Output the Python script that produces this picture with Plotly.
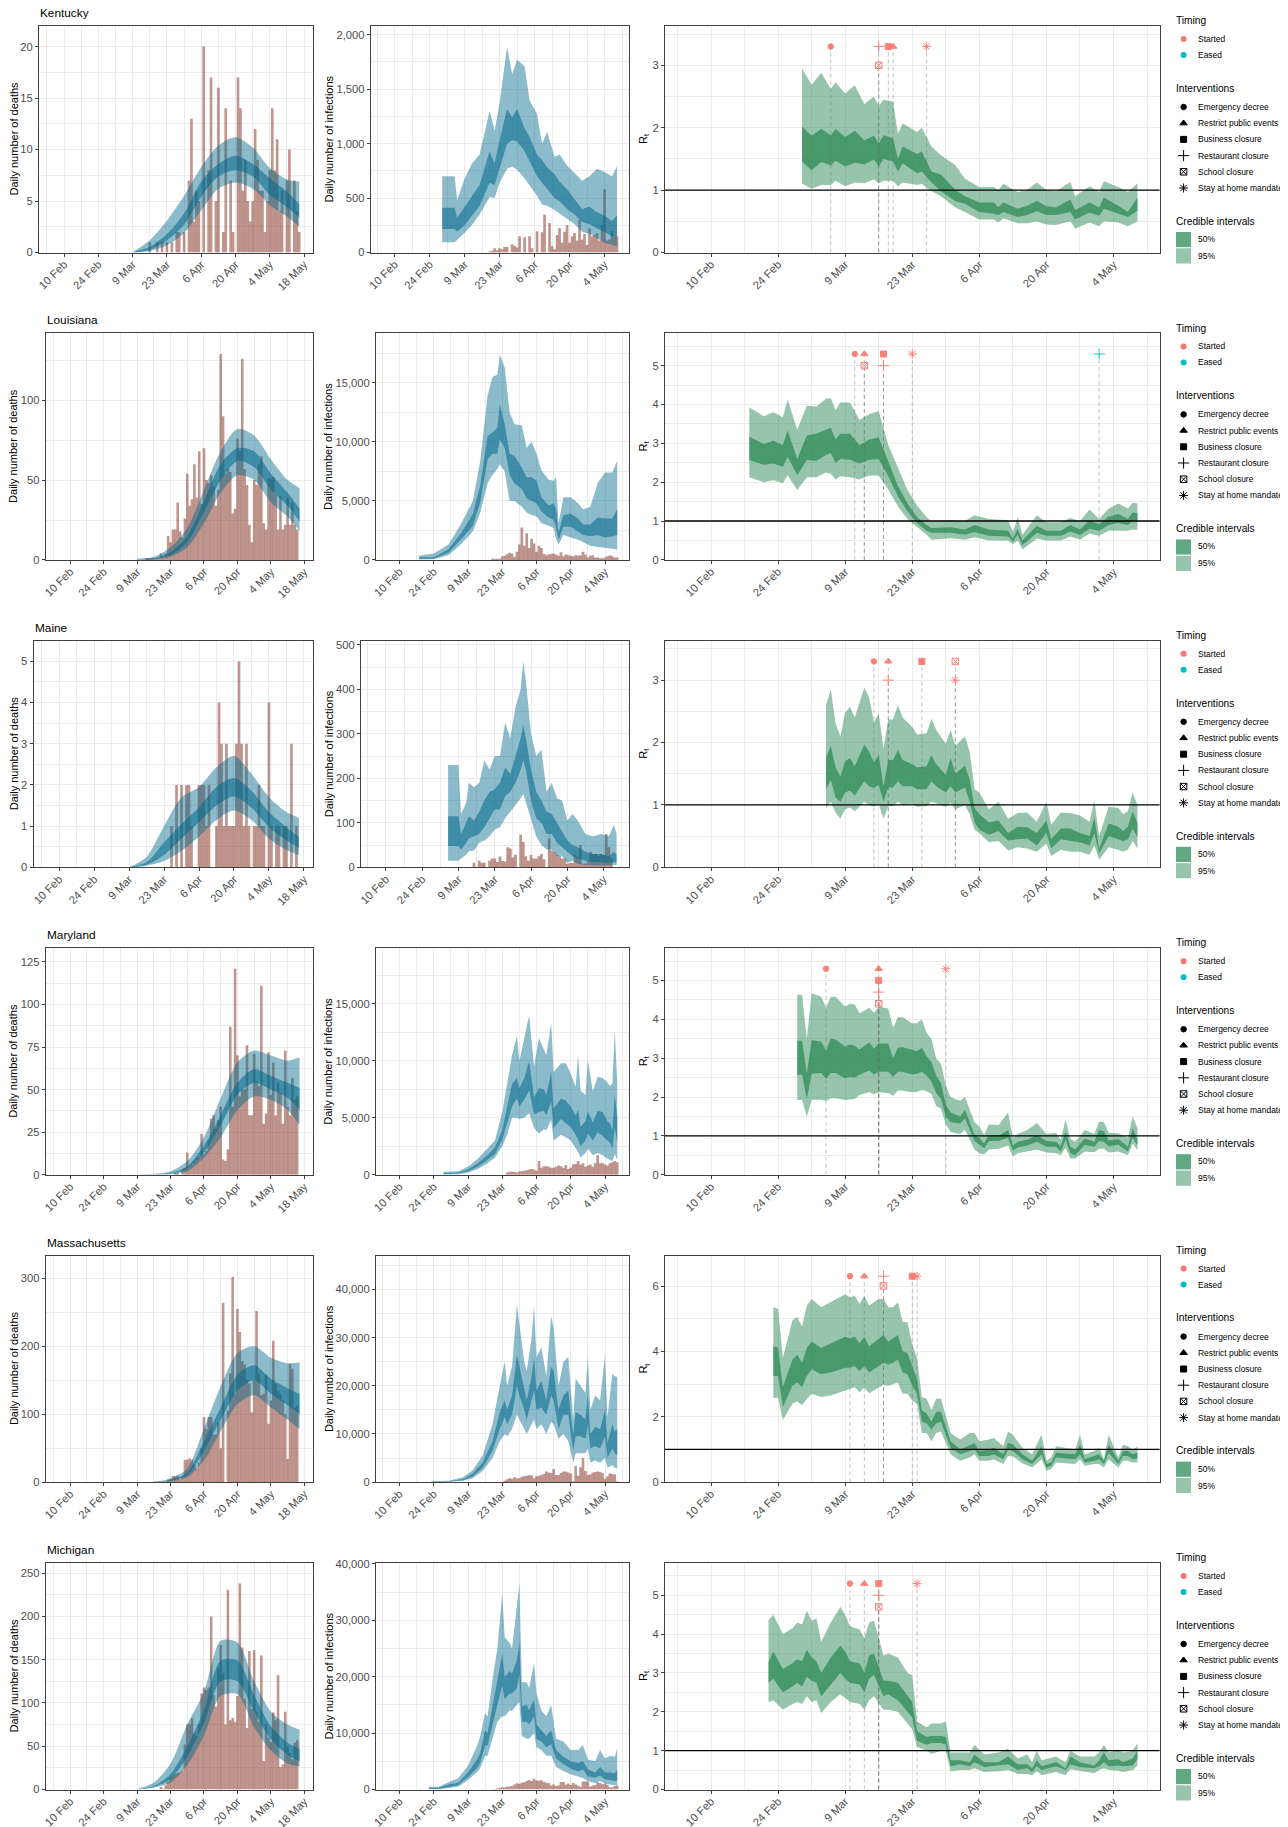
import pandas as pd
import plotly.graph_objects as go

# the page keeps its 8px body margin at the left and top
PAGE_MARGIN = 8
WIDTH = 1288 - PAGE_MARGIN
HEIGHT = 1827 - PAGE_MARGIN
DAY0 = pd.Timestamp("2020-02-10")

STATES = ["Kentucky", "Louisiana", "Maine", "Maryland", "Massachusetts", "Michigan"]

TICK_DAYS_DEATHS = [0, 14, 28, 42, 56, 70, 84, 98]
TICK_TEXT_DEATHS = ["10 Feb", "24 Feb", "9 Mar", "23 Mar", "6 Apr", "20 Apr", "4 May", "18 May"]
MINOR_DAYS_DEATHS = [-7, 7, 21, 35, 49, 63, 77, 91]
TICK_DAYS_OTHER = [0, 14, 28, 42, 56, 70, 84]
TICK_TEXT_OTHER = ["10 Feb", "24 Feb", "9 Mar", "23 Mar", "6 Apr", "20 Apr", "4 May"]
MINOR_DAYS_OTHER = [-7, 7, 21, 35, 49, 63, 77, 91]

# deaths ribbons are read at weekly knots, all days count from 10 Feb
DEATH_DAYS = [28, 35, 42, 49, 56, 63, 70, 77, 84, 91, 96]

# ---- Kentucky
KY_DEATHS_START = 35
KY_DEATHS = [1, 0, 0, 1, 0, 1, 0, 1, 0, 1, 0, 2, 2, 0, 2, 0, 7, 13, 3, 6, 5, 0, 20, 0, 8, 17, 0, 5, 16, 0, 2, 14, 0, 7, 2, 0, 17, 14, 6, 9, 5, 3, 5, 12, 9, 6, 6, 2, 5, 8, 14, 8, 11, 4, 6, 0, 7, 10, 0, 7, 4, 2]
KY_D_U95 = [0.05, 1.2, 3.1, 5.5, 8.3, 10.4, 11.2, 10.2, 8.2, 7.1, 6.9]
KY_D_U50 = [0.03, 0.55, 1.8, 3.8, 6.9, 8.6, 9.4, 8.6, 7.2, 5.9, 4.7]
KY_D_L50 = [0.02, 0.25, 1.2, 2.7, 5.4, 7.4, 8.0, 7.4, 5.6, 4.4, 3.4]
KY_D_L95 = [0.01, 0.15, 0.7, 1.9, 4.1, 6.2, 6.8, 6.2, 4.6, 3.5, 2.5]
KY_CASES_START = 38
KY_CASES = [10, 15, 40, 20, 40, 30, 50, 50, 0, 75, 60, 45, 150, 0, 140, 0, 150, 40, 0, 195, 0, 185, 350, 0, 270, 60, 30, 160, 225, 90, 190, 250, 90, 150, 180, 110, 300, 120, 170, 70, 220, 150, 160, 180, 110, 250, 580, 110, 120, 195, 150, 150]
KY_I_DAYS = [19, 24, 25, 28, 31, 34, 38, 40, 42, 45, 47, 49, 52, 54, 57, 59, 61, 64, 66, 69, 72, 75, 78, 81, 84, 87, 89]
KY_I_U95 = [700, 700, 480, 680, 820, 900, 1300, 1120, 1370, 1890, 1640, 1770, 1710, 1400, 1270, 1000, 1110, 880, 900, 800, 730, 660, 700, 770, 740, 700, 790]
KY_I_U50 = [410, 410, 320, 420, 520, 620, 930, 820, 1030, 1320, 1240, 1320, 1140, 1060, 900, 850, 780, 720, 650, 580, 490, 400, 420, 370, 340, 290, 340]
KY_I_L50 = [215, 215, 190, 250, 340, 430, 640, 620, 780, 1000, 1030, 1020, 930, 840, 700, 640, 580, 500, 470, 400, 350, 280, 260, 220, 190, 150, 150]
KY_I_L95 = [95, 95, 115, 180, 255, 350, 510, 500, 640, 770, 790, 760, 680, 620, 520, 440, 430, 390, 360, 310, 260, 190, 170, 130, 90, 70, 55]
KY_R_DAYS = [19, 21, 23, 25, 26, 28, 30, 32, 34, 35, 36, 38, 39, 40, 43, 44, 46, 48, 51, 53, 56, 59, 60, 61, 64, 66, 68, 70, 72, 75, 76, 79, 81, 82, 85, 87, 89]
KY_R_U95 = [2.95, 2.69, 2.88, 2.62, 2.73, 2.55, 2.68, 2.38, 2.50, 2.35, 2.45, 2.42, 1.90, 2.07, 1.93, 2.00, 1.70, 1.56, 1.40, 1.18, 1.05, 1.05, 1.00, 1.10, 0.97, 1.00, 1.12, 1.00, 0.98, 1.13, 0.90, 1.06, 0.97, 1.14, 1.05, 0.97, 1.11]
KY_R_U50 = [2.02, 1.87, 1.98, 1.88, 1.98, 1.85, 1.95, 1.80, 1.87, 1.75, 1.88, 1.83, 1.50, 1.70, 1.58, 1.62, 1.30, 1.25, 1.00, 0.90, 0.80, 0.80, 0.73, 0.80, 0.70, 0.75, 0.83, 0.74, 0.72, 0.85, 0.68, 0.80, 0.72, 0.88, 0.75, 0.65, 0.88]
KY_R_L50 = [1.46, 1.32, 1.45, 1.40, 1.47, 1.38, 1.44, 1.41, 1.49, 1.38, 1.50, 1.46, 1.30, 1.43, 1.27, 1.30, 1.12, 0.98, 0.82, 0.78, 0.65, 0.62, 0.60, 0.65, 0.57, 0.60, 0.66, 0.60, 0.60, 0.65, 0.53, 0.64, 0.59, 0.70, 0.62, 0.57, 0.67]
KY_R_L95 = [1.10, 1.02, 1.08, 1.08, 1.15, 1.06, 1.12, 1.11, 1.17, 1.11, 1.15, 1.15, 1.06, 1.12, 1.08, 1.10, 0.98, 0.90, 0.72, 0.65, 0.53, 0.53, 0.48, 0.55, 0.47, 0.47, 0.50, 0.45, 0.44, 0.50, 0.38, 0.48, 0.42, 0.50, 0.48, 0.42, 0.50]
KY_EV_DAYS = [25, 35, 35, 37, 38, 45]
KY_EV_Y = [3.3, 3.3, 3.0, 3.3, 3.3, 3.3]
KY_EV_KIND = ["emergency", "restaurant", "school", "business", "events", "home"]
KY_EV_EASED = [0, 0, 0, 0, 0, 0]

# ---- Louisiana
LA_DEATHS_START = 32
LA_DEATHS = [1, 1, 1, 1, 1, 1, 4, 2, 4, 15, 11, 19, 19, 36, 18, 14, 26, 54, 34, 38, 60, 39, 68, 35, 70, 50, 48, 53, 46, 34, 44, 129, 90, 54, 57, 55, 29, 32, 76, 68, 126, 57, 47, 22, 11, 50, 47, 60, 65, 23, 19, 51, 51, 52, 41, 19, 40, 19, 22, 39, 22, 36, 22, 19]
LA_D_U95 = [0.8, 2, 8, 20, 44, 68, 82, 78, 63, 50, 45]
LA_D_U50 = [0.5, 1, 5, 15, 37, 60, 70, 68, 54, 42, 32]
LA_D_L50 = [0.3, 0.5, 3, 11, 30, 50, 62, 58, 44, 34, 24]
LA_D_L95 = [0.2, 0.3, 2, 8, 23, 42, 53, 50, 36, 27, 18]
LA_CASES_START = 38
LA_CASES = [100, 100, 100, 100, 300, 350, 500, 600, 550, 250, 700, 1300, 2750, 1200, 2250, 1000, 1800, 1400, 700, 1200, 1000, 500, 400, 450, 500, 550, 450, 350, 650, 300, 450, 400, 350, 300, 400, 350, 400, 700, 450, 200, 350, 400, 200, 200, 150, 150, 200, 300, 400, 300, 200, 200]
LA_I_DAYS = [8, 14, 20, 25, 30, 33, 36, 38, 40, 41, 43, 45, 47, 50, 52, 54, 56, 58, 61, 63, 64, 65, 67, 70, 73, 75, 78, 81, 84, 87, 89]
LA_I_U95 = [350, 550, 1300, 3000, 5000, 8400, 13900, 15500, 15700, 17400, 16300, 12500, 11500, 11400, 9500, 10000, 9000, 7600, 6800, 6700, 7000, 3100, 5300, 5300, 4800, 4300, 4500, 6500, 7400, 7400, 8400]
LA_I_U50 = [250, 200, 900, 2200, 3900, 6300, 10500, 10800, 11200, 13200, 11500, 9000, 8800, 7800, 7000, 7000, 6700, 5300, 4600, 4800, 4300, 2300, 3800, 3900, 3500, 3000, 3000, 3600, 3500, 3500, 4300]
LA_I_L50 = [100, 100, 600, 1700, 2900, 4900, 8500, 9000, 9000, 10200, 9500, 7200, 6500, 6000, 5200, 5000, 4800, 4100, 3600, 3400, 2700, 1700, 2800, 2800, 2400, 2100, 2000, 2100, 1900, 2000, 2100]
LA_I_L95 = [30, 50, 400, 1300, 2400, 4000, 6500, 7200, 7700, 8100, 7500, 5000, 5000, 4500, 4000, 3800, 3700, 3100, 2900, 2700, 1800, 1300, 2100, 1900, 1700, 1500, 1200, 1100, 1000, 950, 850]
LA_R_DAYS = [8, 11, 13, 15, 16, 18, 20, 22, 24, 25, 26, 27, 29, 31, 33, 35, 37, 39, 41, 43, 45, 46, 50, 53, 55, 58, 62, 63, 64, 65, 68, 70, 73, 75, 77, 79, 81, 83, 85, 87, 88, 89]
LA_R_U95 = [3.93, 3.70, 3.80, 3.67, 4.12, 3.35, 3.97, 3.95, 4.15, 4.16, 3.85, 4.05, 4.05, 3.60, 3.75, 3.83, 2.96, 2.40, 1.80, 1.40, 1.10, 1.00, 1.02, 1.00, 1.15, 1.05, 1.02, 0.72, 1.10, 0.65, 1.15, 0.97, 0.97, 1.08, 1.00, 1.30, 1.05, 1.32, 1.45, 1.32, 1.47, 1.45]
LA_R_U50 = [3.17, 2.98, 3.07, 2.95, 3.33, 2.60, 3.20, 3.25, 3.35, 3.40, 3.10, 3.25, 3.25, 2.95, 3.10, 3.15, 2.54, 1.90, 1.45, 1.10, 0.90, 0.82, 0.84, 0.78, 0.90, 0.78, 0.75, 0.55, 0.80, 0.50, 0.88, 0.75, 0.75, 0.90, 0.78, 1.02, 0.92, 1.12, 1.18, 1.05, 1.22, 1.20]
LA_R_L50 = [2.57, 2.45, 2.48, 2.40, 2.65, 2.18, 2.57, 2.55, 2.70, 2.75, 2.50, 2.60, 2.58, 2.48, 2.58, 2.60, 2.15, 1.64, 1.25, 0.95, 0.75, 0.70, 0.70, 0.65, 0.72, 0.62, 0.60, 0.48, 0.65, 0.38, 0.70, 0.62, 0.62, 0.73, 0.64, 0.80, 0.75, 0.90, 0.95, 0.90, 1.00, 0.98]
LA_R_L95 = [2.13, 2.00, 2.05, 1.97, 2.18, 1.80, 2.13, 2.13, 2.25, 2.22, 2.07, 2.15, 2.13, 2.07, 2.17, 2.17, 1.81, 1.38, 1.05, 0.85, 0.65, 0.52, 0.56, 0.52, 0.58, 0.50, 0.50, 0.40, 0.50, 0.27, 0.55, 0.50, 0.50, 0.60, 0.52, 0.68, 0.62, 0.75, 0.75, 0.75, 0.78, 0.77]
LA_EV_DAYS = [30, 32, 32, 36, 36, 42, 81]
LA_EV_Y = [5.3, 5.3, 5.0, 5.3, 5.0, 5.3, 5.3]
LA_EV_KIND = ["emergency", "events", "school", "business", "restaurant", "home", "restaurant"]
LA_EV_EASED = [0, 0, 0, 0, 0, 0, 1]

# ---- Maine
ME_DEATHS_START = 45
ME_DEATHS = [1, 0, 2, 0, 2, 0, 2, 2, 1, 0, 0, 2, 2, 2, 1, 2, 0, 0, 1, 4, 3, 1, 3, 1, 1, 1, 3, 5, 3, 1, 3, 1, 0, 1, 1, 2, 1, 1, 0, 4, 1, 0, 1, 1, 0, 1, 1, 0, 3, 0, 1]
ME_D_U95 = [0, 0.25, 1.0, 1.7, 1.95, 2.43, 2.71, 2.27, 1.7, 1.34, 1.2]
ME_D_U50 = [0, 0.12, 0.6, 1.05, 1.46, 1.95, 2.17, 1.86, 1.34, 0.97, 0.73]
ME_D_L50 = [0, 0.06, 0.3, 0.7, 1.1, 1.5, 1.72, 1.45, 0.98, 0.65, 0.47]
ME_D_L95 = [0, 0.04, 0.15, 0.4, 0.75, 1.15, 1.38, 1.15, 0.70, 0.42, 0.3]
ME_CASES_START = 34
ME_CASES = [10, 0, 15, 10, 10, 0, 15, 20, 20, 12, 24, 14, 13, 45, 42, 22, 28, 0, 73, 57, 25, 15, 28, 20, 20, 25, 30, 18, 0, 65, 38, 34, 28, 25, 20, 20, 8, 10, 10, 28, 22, 50, 8, 8, 15, 35, 28, 30, 25, 30, 27, 75, 45, 20]
ME_I_DAYS = [24, 28, 29, 31, 32, 34, 36, 38, 40, 42, 44, 46, 48, 50, 52, 53, 54, 56, 58, 60, 62, 64, 66, 68, 70, 72, 74, 77, 80, 83, 86, 88, 89]
ME_I_U95 = [230, 230, 120, 145, 190, 180, 190, 240, 220, 250, 250, 325, 290, 360, 400, 463, 420, 300, 250, 265, 170, 190, 155, 150, 105, 120, 105, 75, 70, 75, 70, 95, 75]
ME_I_U50 = [115, 115, 75, 100, 115, 105, 125, 150, 170, 175, 190, 225, 210, 250, 290, 320, 290, 220, 170, 150, 125, 120, 100, 80, 60, 50, 45, 35, 30, 30, 25, 35, 28]
ME_I_L50 = [48, 48, 40, 55, 65, 70, 75, 90, 110, 130, 130, 160, 170, 190, 220, 240, 220, 150, 110, 100, 75, 75, 55, 45, 35, 25, 20, 15, 12, 12, 10, 12, 10]
ME_I_L95 = [15, 15, 20, 28, 36, 38, 55, 60, 70, 85, 90, 110, 125, 140, 155, 165, 150, 110, 70, 50, 40, 40, 25, 25, 10, 15, 8, 5, 4, 4, 4, 5, 5]
ME_R_DAYS = [24, 25, 26, 27, 28, 29, 30, 32, 33, 34, 35, 36, 37, 38, 39, 40, 42, 43, 45, 46, 47, 49, 50, 51, 53, 54, 55, 56, 58, 60, 62, 64, 66, 68, 70, 71, 73, 75, 77, 79, 80, 81, 83, 85, 86, 87, 88, 89]
ME_R_U95 = [2.60, 2.85, 2.30, 2.10, 2.48, 2.57, 2.40, 2.88, 2.72, 2.33, 2.47, 1.90, 2.37, 2.37, 2.60, 2.40, 2.25, 2.13, 2.15, 2.38, 2.20, 1.98, 2.20, 1.95, 2.10, 1.85, 1.25, 1.20, 0.93, 1.05, 0.78, 0.87, 0.88, 0.73, 1.05, 0.68, 0.88, 0.87, 0.83, 0.73, 1.08, 0.50, 0.97, 0.95, 0.85, 0.90, 1.20, 1.00]
ME_R_U50 = [1.75, 1.95, 1.60, 1.45, 1.70, 1.75, 1.62, 1.97, 1.85, 1.68, 1.80, 1.30, 1.72, 1.72, 1.88, 1.72, 1.65, 1.60, 1.62, 1.80, 1.65, 1.48, 1.75, 1.50, 1.63, 1.40, 0.95, 0.85, 0.72, 0.75, 0.55, 0.65, 0.64, 0.55, 0.75, 0.45, 0.62, 0.62, 0.55, 0.50, 0.80, 0.30, 0.70, 0.65, 0.58, 0.65, 0.90, 0.70]
ME_R_L50 = [1.25, 1.40, 1.12, 1.05, 1.20, 1.23, 1.15, 1.38, 1.30, 1.27, 1.32, 1.05, 1.28, 1.28, 1.38, 1.30, 1.30, 1.25, 1.25, 1.38, 1.30, 1.20, 1.30, 1.20, 1.28, 1.05, 0.72, 0.60, 0.52, 0.58, 0.43, 0.45, 0.46, 0.35, 0.55, 0.30, 0.45, 0.42, 0.40, 0.35, 0.55, 0.22, 0.50, 0.45, 0.42, 0.45, 0.62, 0.48]
ME_R_L95 = [0.95, 1.05, 0.88, 0.78, 0.93, 0.96, 0.90, 1.05, 1.00, 0.97, 1.02, 0.78, 0.98, 0.98, 1.05, 1.00, 1.02, 0.97, 0.98, 1.05, 1.02, 0.97, 1.03, 0.93, 1.00, 0.85, 0.60, 0.55, 0.40, 0.42, 0.27, 0.32, 0.30, 0.25, 0.38, 0.18, 0.28, 0.25, 0.25, 0.20, 0.35, 0.12, 0.32, 0.28, 0.25, 0.28, 0.42, 0.30]
ME_EV_DAYS = [34, 37, 37, 44, 51, 51]
ME_EV_Y = [3.3, 3.3, 3.0, 3.3, 3.3, 3.0]
ME_EV_KIND = ["emergency", "events", "restaurant", "business", "school", "home"]
ME_EV_EASED = [0, 0, 0, 0, 0, 0]

# ---- Maryland
MD_DEATHS_START = 44
MD_DEATHS = [1, 1, 0, 3, 4, 13, 5, 6, 8, 10, 10, 24, 12, 14, 20, 33, 35, 27, 32, 40, 9, 8, 15, 87, 40, 121, 70, 46, 50, 50, 76, 35, 35, 71, 55, 52, 111, 30, 36, 72, 47, 66, 35, 54, 48, 30, 73, 40, 35, 57, 44, 46]
MD_D_U95 = [0.1, 0.5, 2, 8, 22, 45, 66, 73, 70, 67, 69]
MD_D_U50 = [0.07, 0.3, 1, 5, 17, 35, 54, 62, 58, 54, 51]
MD_D_L50 = [0.05, 0.2, 0.6, 3.5, 13, 29, 47, 54, 50, 45, 38]
MD_D_L95 = [0.03, 0.1, 0.4, 2, 10, 22, 38, 46, 44, 38, 29]
MD_CASES_START = 44
MD_CASES = [200, 250, 250, 230, 200, 280, 300, 350, 400, 450, 500, 450, 350, 1200, 600, 750, 750, 700, 600, 600, 700, 800, 750, 600, 850, 500, 600, 900, 950, 1200, 900, 1000, 700, 800, 900, 700, 1000, 1700, 1000, 1000, 900, 800, 1000, 1100, 1200, 1100]
MD_I_DAYS = [18, 24, 28, 32, 36, 39, 42, 44, 46, 48, 49, 51, 53, 55, 57, 59, 60, 62, 63, 66, 68, 70, 72, 73, 74, 76, 77, 79, 81, 83, 85, 86, 87, 88, 89]
MD_I_U95 = [250, 300, 700, 1400, 2300, 3000, 5500, 8000, 10500, 12200, 10000, 12000, 14000, 9500, 12000, 11000, 10500, 13300, 9000, 9800, 9800, 8900, 7700, 10500, 7400, 7000, 10100, 7300, 8600, 8500, 8100, 7800, 8000, 12700, 8000]
MD_I_U50 = [120, 200, 450, 1000, 1700, 2400, 3900, 5800, 8000, 8500, 7600, 8500, 10000, 6800, 7600, 7500, 7000, 9000, 5800, 6700, 6500, 6000, 5200, 5700, 4200, 4700, 5500, 4600, 5600, 5500, 4700, 4500, 3900, 7000, 5000]
MD_I_L50 = [50, 100, 300, 700, 1300, 1800, 3100, 4500, 6000, 6700, 6000, 6600, 7400, 5300, 5500, 5600, 5200, 6400, 4100, 4900, 4500, 4200, 3500, 3100, 2500, 3000, 3600, 3000, 3700, 3400, 3000, 2800, 2300, 4100, 2800]
MD_I_L95 = [20, 50, 180, 500, 1000, 1500, 2500, 3500, 5000, 5000, 4900, 5000, 5400, 4100, 3600, 4000, 3900, 4800, 3000, 3500, 3300, 3000, 2300, 2000, 1500, 1900, 2300, 1700, 1900, 1700, 1400, 1300, 1200, 1800, 1300]
MD_R_DAYS = [18, 19, 20, 21, 23, 24, 25, 26, 28, 29, 30, 31, 33, 34, 35, 37, 38, 39, 40, 42, 43, 44, 45, 46, 47, 48, 49, 50, 52, 53, 55, 56, 57, 58, 60, 62, 63, 64, 66, 68, 70, 72, 73, 74, 75, 76, 78, 80, 81, 82, 83, 85, 87, 88, 89]
MD_R_U95 = [4.63, 4.63, 3.50, 4.67, 4.58, 4.30, 4.58, 4.58, 4.33, 4.40, 4.38, 4.15, 4.30, 4.17, 4.32, 4.28, 3.78, 4.05, 4.05, 3.90, 3.90, 4.00, 3.65, 3.50, 3.00, 2.85, 2.30, 2.00, 1.90, 2.00, 1.35, 1.25, 1.02, 1.30, 1.27, 1.60, 0.95, 1.05, 1.15, 1.33, 1.05, 1.08, 0.90, 1.42, 0.92, 0.85, 1.15, 1.05, 1.37, 1.35, 1.08, 1.07, 0.95, 1.50, 1.20]
MD_R_U50 = [3.45, 3.45, 2.60, 3.47, 3.42, 3.20, 3.50, 3.48, 3.30, 3.35, 3.32, 3.22, 3.40, 3.25, 3.38, 3.38, 3.00, 3.27, 3.28, 3.20, 3.18, 3.27, 3.05, 2.90, 2.55, 2.35, 1.80, 1.60, 1.50, 1.67, 1.02, 0.95, 0.80, 1.02, 1.00, 1.15, 0.75, 0.85, 0.90, 1.02, 0.87, 0.85, 0.73, 1.12, 0.72, 0.65, 0.93, 0.85, 1.15, 1.12, 0.88, 0.92, 0.72, 1.20, 0.90]
MD_R_L50 = [2.57, 2.57, 1.95, 2.60, 2.62, 2.47, 2.62, 2.62, 2.48, 2.52, 2.50, 2.57, 2.68, 2.58, 2.65, 2.65, 2.52, 2.65, 2.65, 2.58, 2.60, 2.65, 2.55, 2.40, 2.10, 1.95, 1.50, 1.35, 1.32, 1.45, 0.87, 0.78, 0.68, 0.87, 0.87, 0.95, 0.62, 0.70, 0.75, 0.85, 0.72, 0.72, 0.60, 0.90, 0.55, 0.50, 0.77, 0.72, 0.87, 0.85, 0.73, 0.77, 0.60, 0.95, 0.75]
MD_R_L95 = [1.92, 1.92, 1.50, 1.93, 1.93, 1.90, 1.97, 1.97, 1.92, 1.94, 1.95, 2.05, 2.13, 2.07, 2.12, 2.10, 2.03, 2.17, 2.16, 2.12, 2.13, 2.18, 2.15, 2.08, 1.77, 1.70, 1.30, 1.10, 1.05, 1.15, 0.65, 0.55, 0.52, 0.65, 0.67, 0.75, 0.47, 0.55, 0.60, 0.65, 0.57, 0.55, 0.50, 0.70, 0.42, 0.42, 0.60, 0.58, 0.67, 0.67, 0.57, 0.60, 0.50, 0.80, 0.63]
MD_EV_DAYS = [24, 35, 35, 35, 35, 49]
MD_EV_Y = [5.3, 5.3, 5.0, 4.7, 4.4, 5.3]
MD_EV_KIND = ["emergency", "events", "business", "restaurant", "school", "home"]
MD_EV_EASED = [0, 0, 0, 0, 0, 0]

# ---- Massachusetts
MA_DEATHS_START = 41
MA_DEATHS = [4, 5, 9, 9, 10, 4, 8, 33, 33, 35, 33, 25, 20, 29, 50, 96, 78, 96, 96, 70, 70, 88, 50, 264, 0, 105, 160, 302, 130, 255, 221, 178, 173, 150, 145, 103, 150, 252, 160, 128, 130, 158, 86, 120, 208, 145, 135, 130, 120, 100, 34, 174, 167, 110, 113]
MA_D_U95 = [0.3, 0.5, 5, 20, 79, 141, 190, 200, 183, 175, 176]
MA_D_U50 = [0.2, 0.3, 3, 14, 60, 110, 158, 172, 152, 138, 130]
MA_D_L50 = [0.1, 0.2, 2, 10, 46, 92, 135, 150, 130, 113, 100]
MA_D_L95 = [0.05, 0.1, 1, 7, 32, 75, 115, 128, 110, 92, 78]
MA_CASES_START = 43
MA_CASES = [300, 600, 800, 700, 1000, 800, 800, 1100, 1200, 1300, 1400, 1400, 800, 1200, 1300, 1500, 1700, 2200, 2000, 1900, 2700, 1500, 1500, 1900, 2200, 2200, 2000, 1800, 200, 3300, 1300, 3100, 5000, 2300, 1500, 1600, 2000, 2100, 2200, 2100, 1900, 700, 1200, 1800, 1700, 1600, 100]
MA_I_DAYS = [13, 20, 26, 30, 34, 38, 41, 43, 44, 46, 48, 49, 51, 52, 54, 55, 56, 58, 60, 62, 63, 65, 67, 69, 70, 71, 72, 74, 76, 77, 78, 80, 82, 84, 85, 87, 88, 89]
MA_I_U95 = [200, 300, 1000, 2500, 5500, 12000, 20000, 25000, 20000, 24000, 36800, 33000, 25000, 23000, 30000, 36500, 26000, 28000, 22000, 34500, 32000, 20000, 25000, 26000, 20000, 13000, 21500, 20000, 18500, 26000, 15000, 18000, 17000, 26500, 13500, 22500, 22000, 21800]
MA_I_U50 = [100, 200, 600, 1800, 4000, 8500, 14500, 17000, 15000, 18000, 26500, 24000, 19000, 17000, 22000, 26000, 19000, 21000, 17000, 24000, 23000, 15000, 18000, 19000, 14000, 10000, 14500, 14000, 13000, 18000, 10000, 11500, 11000, 15000, 8000, 12000, 10500, 11000]
MA_I_L50 = [50, 100, 400, 1200, 3000, 6500, 11000, 13500, 12000, 14000, 20000, 18000, 15000, 13000, 17000, 19000, 15000, 15500, 14000, 18000, 17000, 11000, 14000, 14000, 10000, 6500, 9500, 9500, 9000, 12000, 7000, 7500, 7000, 9500, 5000, 7000, 6000, 5500]
MA_I_L95 = [20, 50, 300, 800, 2300, 5000, 8500, 10000, 9500, 11000, 14000, 13000, 11000, 10000, 12000, 13000, 11000, 12000, 10000, 12500, 12000, 9000, 10000, 8500, 6500, 4000, 6000, 6000, 6000, 7000, 4000, 4500, 4000, 5000, 3000, 3500, 3000, 2800]
MA_R_DAYS = [13, 14, 15, 17, 18, 19, 20, 21, 23, 25, 27, 28, 29, 30, 31, 32, 33, 35, 36, 37, 38, 39, 40, 41, 42, 43, 44, 45, 46, 47, 48, 50, 52, 54, 55, 56, 58, 59, 61, 62, 63, 65, 67, 69, 70, 71, 72, 76, 77, 78, 80, 81, 82, 83, 85, 86, 87, 88, 89]
MA_R_U95 = [5.35, 5.30, 3.80, 4.95, 5.05, 4.75, 5.40, 5.60, 5.35, 5.50, 5.65, 5.75, 5.65, 5.70, 5.45, 5.70, 5.40, 5.60, 5.60, 5.35, 5.35, 5.50, 4.90, 4.90, 4.20, 3.80, 2.60, 2.55, 2.20, 2.55, 2.55, 1.50, 1.30, 1.50, 1.50, 1.25, 1.30, 1.35, 1.10, 1.55, 1.45, 1.05, 0.85, 1.45, 0.65, 0.75, 1.10, 1.00, 1.45, 0.85, 0.95, 1.05, 0.70, 1.45, 0.75, 1.15, 1.10, 1.00, 1.08]
MA_R_U50 = [4.15, 4.12, 2.90, 3.75, 3.90, 3.65, 4.10, 4.30, 4.10, 4.25, 4.40, 4.45, 4.40, 4.45, 4.25, 4.45, 4.15, 4.40, 4.50, 4.30, 4.40, 4.50, 4.00, 3.95, 3.55, 3.15, 2.20, 2.10, 1.85, 2.15, 2.15, 1.25, 1.00, 1.15, 1.20, 0.95, 1.00, 1.05, 0.85, 1.20, 1.15, 0.85, 0.65, 1.10, 0.55, 0.60, 0.90, 0.85, 1.15, 0.70, 0.80, 0.85, 0.65, 1.15, 0.65, 0.95, 0.95, 0.85, 0.90]
MA_R_L50 = [3.25, 3.25, 2.30, 2.95, 3.05, 2.90, 3.25, 3.45, 3.30, 3.35, 3.45, 3.50, 3.50, 3.55, 3.40, 3.55, 3.35, 3.55, 3.65, 3.60, 3.65, 3.75, 3.35, 3.30, 2.95, 2.70, 1.85, 1.80, 1.60, 1.80, 1.85, 1.05, 0.85, 0.95, 1.00, 0.80, 0.80, 0.85, 0.70, 1.00, 0.95, 0.70, 0.55, 0.85, 0.45, 0.50, 0.75, 0.70, 0.85, 0.60, 0.65, 0.70, 0.55, 0.90, 0.55, 0.80, 0.80, 0.70, 0.72]
MA_R_L95 = [2.58, 2.58, 1.90, 2.40, 2.47, 2.35, 2.55, 2.70, 2.60, 2.65, 2.75, 2.80, 2.85, 2.90, 2.75, 2.90, 2.72, 2.90, 2.98, 2.95, 3.00, 3.05, 2.70, 2.70, 2.50, 2.40, 1.50, 1.50, 1.25, 1.50, 1.55, 0.85, 0.65, 0.75, 0.85, 0.65, 0.65, 0.70, 0.55, 0.80, 0.78, 0.58, 0.45, 0.70, 0.35, 0.40, 0.60, 0.55, 0.70, 0.50, 0.55, 0.55, 0.45, 0.70, 0.45, 0.65, 0.65, 0.60, 0.60]
MA_EV_DAYS = [29, 32, 36, 36, 42, 43]
MA_EV_Y = [6.3, 6.3, 6.3, 6.0, 6.3, 6.3]
MA_EV_KIND = ["emergency", "events", "restaurant", "school", "business", "home"]
MA_EV_EASED = [0, 0, 0, 0, 0, 0]

# ---- Michigan
MI_DEATHS_START = 38
MI_DEATHS = [3, 1, 5, 9, 14, 16, 18, 19, 20, 22, 52, 75, 76, 82, 65, 62, 75, 111, 118, 115, 118, 200, 109, 96, 140, 167, 135, 75, 231, 80, 83, 78, 108, 238, 164, 105, 71, 160, 93, 161, 90, 78, 155, 33, 75, 60, 55, 89, 80, 132, 26, 29, 90, 50, 42, 35, 54, 57]
MI_D_U95 = [0.5, 8, 30, 75, 113, 172, 170, 125, 90, 75, 69]
MI_D_U50 = [0.3, 4, 18, 50, 92, 149, 149, 109, 73, 54, 47]
MI_D_L50 = [0.2, 3, 12, 38, 77, 125, 125, 90, 58, 40, 33]
MI_D_L95 = [0.1, 2, 8, 28, 62, 108, 110, 72, 45, 30, 27]
MI_CASES_START = 38
MI_CASES = [50, 100, 200, 250, 400, 350, 500, 550, 600, 900, 1100, 1000, 1200, 1300, 1500, 1700, 1500, 1900, 1600, 1600, 1650, 1350, 1200, 1100, 700, 900, 600, 700, 1350, 1350, 900, 1050, 800, 1150, 900, 650, 500, 1400, 1400, 1400, 550, 700, 800, 1250, 1150, 950, 1000, 800, 400, 350, 600, 700]
MI_I_DAYS = [12, 16, 20, 24, 28, 32, 33, 35, 36, 38, 40, 42, 43, 45, 46, 48, 49, 50, 52, 53, 55, 56, 58, 60, 62, 64, 67, 70, 73, 75, 77, 80, 82, 84, 86, 88, 89]
MI_I_U95 = [500, 500, 1300, 2000, 4200, 8000, 9500, 13500, 13000, 19500, 25000, 34800, 27000, 26000, 25000, 32000, 36500, 19000, 19000, 18000, 22500, 17000, 14000, 13000, 15000, 9000, 8500, 7000, 7000, 7900, 5300, 5000, 7000, 5500, 6000, 5800, 7300]
MI_I_U50 = [300, 250, 900, 1200, 3000, 5500, 6500, 10500, 10000, 14500, 19000, 24000, 20000, 21000, 20500, 23000, 26000, 14800, 15000, 14000, 16000, 11500, 10500, 9500, 10500, 7000, 5800, 5000, 4700, 5000, 3600, 3000, 4000, 3000, 3000, 2900, 3500]
MI_I_L50 = [150, 100, 500, 800, 2200, 4000, 4800, 7800, 7800, 11500, 15000, 18500, 16000, 17000, 17000, 18000, 20500, 12000, 12000, 11500, 13000, 9000, 8500, 7500, 8000, 5500, 4500, 3700, 3200, 3500, 2300, 2100, 2500, 1800, 1700, 1500, 1600]
MI_I_L95 = [50, 30, 300, 500, 1700, 3200, 3800, 6000, 6000, 9000, 12000, 13000, 13000, 14000, 14000, 15000, 15500, 9500, 9000, 9000, 10000, 7500, 7000, 6000, 6000, 4000, 3300, 2700, 2300, 2000, 1500, 1100, 1500, 1000, 900, 750, 800]
MI_R_DAYS = [12, 13, 15, 17, 18, 19, 20, 21, 22, 23, 25, 27, 28, 29, 31, 32, 33, 34, 36, 37, 39, 41, 42, 43, 45, 46, 48, 49, 50, 52, 54, 55, 57, 60, 62, 64, 66, 67, 68, 69, 72, 74, 75, 77, 80, 81, 82, 83, 85, 86, 88, 89]
MI_R_U95 = [4.35, 4.50, 4.00, 4.15, 4.30, 4.25, 4.60, 4.35, 4.40, 3.80, 4.30, 4.70, 4.50, 4.20, 4.12, 3.90, 4.30, 4.35, 3.45, 3.50, 3.40, 3.00, 2.95, 1.75, 1.60, 1.70, 1.70, 1.75, 0.95, 0.95, 0.95, 1.15, 0.90, 0.95, 1.05, 0.80, 0.90, 0.70, 1.00, 0.75, 0.85, 0.70, 1.00, 0.85, 0.85, 0.95, 1.15, 0.95, 1.02, 0.95, 1.00, 1.20]
MI_R_U50 = [3.28, 3.55, 3.10, 3.25, 3.35, 3.30, 3.60, 3.40, 3.30, 3.00, 3.40, 3.70, 3.55, 3.30, 3.25, 3.00, 3.45, 3.50, 2.80, 2.80, 2.75, 2.40, 2.25, 1.50, 1.35, 1.38, 1.38, 1.35, 0.75, 0.75, 0.70, 0.90, 0.70, 0.70, 0.85, 0.65, 0.65, 0.55, 0.75, 0.60, 0.70, 0.55, 0.85, 0.70, 0.62, 0.75, 0.95, 0.75, 0.78, 0.70, 0.80, 1.00]
MI_R_L50 = [2.75, 2.85, 2.50, 2.65, 2.75, 2.65, 2.90, 2.80, 2.75, 2.40, 2.70, 3.00, 2.85, 2.75, 2.70, 2.50, 2.85, 2.95, 2.40, 2.45, 2.30, 2.00, 1.85, 1.25, 1.15, 1.20, 1.20, 1.15, 0.60, 0.65, 0.60, 0.70, 0.58, 0.62, 0.65, 0.50, 0.55, 0.45, 0.60, 0.50, 0.60, 0.50, 0.65, 0.58, 0.55, 0.60, 0.70, 0.60, 0.62, 0.60, 0.62, 0.78]
MI_R_L95 = [2.25, 2.30, 2.05, 2.20, 2.25, 2.20, 2.40, 2.25, 2.30, 1.97, 2.25, 2.45, 2.35, 2.25, 2.20, 2.05, 2.30, 2.40, 2.05, 2.05, 2.00, 1.70, 1.55, 1.10, 1.00, 0.92, 1.00, 1.00, 0.47, 0.50, 0.50, 0.55, 0.45, 0.47, 0.50, 0.40, 0.40, 0.37, 0.47, 0.37, 0.45, 0.37, 0.52, 0.47, 0.42, 0.50, 0.55, 0.50, 0.48, 0.45, 0.50, 0.62]
MI_EV_DAYS = [29, 32, 35, 35, 35, 43]
MI_EV_Y = [5.3, 5.3, 5.3, 5.0, 4.7, 5.3]
MI_EV_KIND = ["emergency", "events", "business", "restaurant", "school", "home"]
MI_EV_EASED = [0, 0, 0, 0, 0, 0]

# axis tops and tick steps, one entry per state
DEATH_TOP = [22.0, 141.9, 5.5, 133.1, 333.5, 261.8]
DEATH_STEP = [5, 50, 1, 25, 100, 50]
INF_TOP = [2080, 19190, 509, 19900, 47030, 40150]
INF_STEP = [500, 5000, 100, 5000, 10000, 10000]
RT_TOP = [3.63, 5.83, 3.63, 5.83, 6.93, 5.83]
RT_STEP = [1, 1, 1, 1, 2, 1]

INTERVENTIONS = ["Emergency decree", "Restrict public events", "Business closure", "Restaurant closure", "School closure", "Stay at home mandate"]
INTERVENTION_KEYS = ["emergency", "events", "business", "restaurant", "school", "home"]

ROWS = [
    (KY_DEATHS_START, KY_DEATHS, KY_D_U95, KY_D_U50, KY_D_L50, KY_D_L95, KY_CASES_START, KY_CASES, KY_I_DAYS, KY_I_U95, KY_I_U50, KY_I_L50, KY_I_L95, KY_R_DAYS, KY_R_U95, KY_R_U50, KY_R_L50, KY_R_L95, KY_EV_DAYS, KY_EV_Y, KY_EV_KIND, KY_EV_EASED),
    (LA_DEATHS_START, LA_DEATHS, LA_D_U95, LA_D_U50, LA_D_L50, LA_D_L95, LA_CASES_START, LA_CASES, LA_I_DAYS, LA_I_U95, LA_I_U50, LA_I_L50, LA_I_L95, LA_R_DAYS, LA_R_U95, LA_R_U50, LA_R_L50, LA_R_L95, LA_EV_DAYS, LA_EV_Y, LA_EV_KIND, LA_EV_EASED),
    (ME_DEATHS_START, ME_DEATHS, ME_D_U95, ME_D_U50, ME_D_L50, ME_D_L95, ME_CASES_START, ME_CASES, ME_I_DAYS, ME_I_U95, ME_I_U50, ME_I_L50, ME_I_L95, ME_R_DAYS, ME_R_U95, ME_R_U50, ME_R_L50, ME_R_L95, ME_EV_DAYS, ME_EV_Y, ME_EV_KIND, ME_EV_EASED),
    (MD_DEATHS_START, MD_DEATHS, MD_D_U95, MD_D_U50, MD_D_L50, MD_D_L95, MD_CASES_START, MD_CASES, MD_I_DAYS, MD_I_U95, MD_I_U50, MD_I_L50, MD_I_L95, MD_R_DAYS, MD_R_U95, MD_R_U50, MD_R_L50, MD_R_L95, MD_EV_DAYS, MD_EV_Y, MD_EV_KIND, MD_EV_EASED),
    (MA_DEATHS_START, MA_DEATHS, MA_D_U95, MA_D_U50, MA_D_L50, MA_D_L95, MA_CASES_START, MA_CASES, MA_I_DAYS, MA_I_U95, MA_I_U50, MA_I_L50, MA_I_L95, MA_R_DAYS, MA_R_U95, MA_R_U50, MA_R_L50, MA_R_L95, MA_EV_DAYS, MA_EV_Y, MA_EV_KIND, MA_EV_EASED),
    (MI_DEATHS_START, MI_DEATHS, MI_D_U95, MI_D_U50, MI_D_L50, MI_D_L95, MI_CASES_START, MI_CASES, MI_I_DAYS, MI_I_U95, MI_I_U50, MI_I_L50, MI_I_L95, MI_R_DAYS, MI_R_U95, MI_R_U50, MI_R_L50, MI_R_L95, MI_EV_DAYS, MI_EV_Y, MI_EV_KIND, MI_EV_EASED),
]

# pixel frame of each panel, counted from the window corner
ROW_TOP0 = 26
ROW_PITCH = 307.4
PANEL_H = 226.5
DEATH_LEFT = [39, 45.7, 33.5, 45.7, 45.7, 45.7]
DEATH_RIGHT = 313.3
INF_LEFT = [370.7, 376, 361, 376, 376, 376]
INF_RIGHT = 628.5
RT_LEFT = 665
RT_RIGHT = 1159.5
DEATH_SPAN = [-10.25, 101.75]
OTHER_SPAN = [-9.6, 93.6]

FONT = "Liberation Sans"
TICK_GREY = "#4D4D4D"
FRAME = "#404040"
GRID = "#EBEBEB"
BAR = "rgba(139,62,47,0.55)"
STARTED = "#F8766D"
EASED = "#00BFC4"
SYMBOLS = {
    "emergency": ("circle", 5.5),
    "events": ("triangle-up", 6.5),
    "business": ("square", 6),
    "restaurant": ("cross-thin-open", 8),
    "school": ("square-x-open", 6.5),
    "home": ("asterisk-open", 7.5),
}


def dates(days):
    return [DAY0 + pd.Timedelta(days=d) for d in days]


def ax(n):
    return ("x", "y") if n == 1 else (f"x{n}", f"y{n}")


def axis_key(n):
    return ("xaxis", "yaxis") if n == 1 else (f"xaxis{n}", f"yaxis{n}")


def px(x):
    return (x - PAGE_MARGIN) / WIDTH


def py(y):
    return 1 - (y - PAGE_MARGIN) / HEIGHT


fig = go.Figure()
annotations = []
shapes = []
layout_axes = {}


def label(x, y, text, size=8.45, color="black", anchor="left", angle=0):
    annotations.append(dict(xref="paper", yref="paper", x=px(x), y=py(y), text=text, showarrow=False, borderpad=0,
                            xanchor=anchor, yanchor="middle", textangle=angle,
                            font=dict(family=FONT, size=size, color=color)))


def add_ribbon(n, days, upper, lower, color):
    xa, ya = ax(n)
    d = dates(days)
    fig.add_trace(go.Scatter(x=d + d[::-1], y=upper + lower[::-1], mode="lines", fill="toself", fillcolor=color,
                             line=dict(width=0), xaxis=xa, yaxis=ya, hoverinfo="skip", showlegend=False))


def add_smooth_ribbon(n, days, upper, lower, color):
    # two spline edges with tonexty, so the ribbon ends stay straight
    xa, ya = ax(n)
    d = dates(days)
    edge = dict(width=0, shape="spline", smoothing=0.8)
    fig.add_trace(go.Scatter(x=d, y=lower, mode="lines", line=edge, xaxis=xa, yaxis=ya, hoverinfo="skip",
                             showlegend=False))
    fig.add_trace(go.Scatter(x=d, y=upper, mode="lines", fill="tonexty", fillcolor=color, line=edge, xaxis=xa, yaxis=ya,
                             hoverinfo="skip", showlegend=False))


def add_bars(n, start, values):
    xa, ya = ax(n)
    d = dates(range(start, start + len(values)))
    fig.add_trace(go.Bar(x=d, y=values, width=86400000 * 1.08, marker=dict(color=BAR, line=dict(width=0)),
                         xaxis=xa, yaxis=ya, showlegend=False))


def set_axes(n, left, right, top, y_top, y_step, span, tick_days, tick_text, minor_days):
    xk, yk = axis_key(n)
    xa, ya = ax(n)
    common = dict(showline=True, mirror=True, linecolor=FRAME, linewidth=1, ticks="outside", ticklen=3, tickwidth=1,
                  tickcolor=FRAME, showgrid=True, gridcolor=GRID, gridwidth=1.1, zeroline=False,
                  tickfont=dict(family=FONT, size=11.2, color=TICK_GREY))
    layout_axes[xk] = dict(domain=[px(left), px(right)], anchor=ya, type="date", range=dates(span), tickmode="array",
                           tickvals=dates(tick_days), ticktext=tick_text, tickangle=-45, ticklabelstandoff=-3,
                           minor=dict(tickmode="array", tickvals=dates(minor_days), showgrid=True, gridcolor=GRID,
                                      gridwidth=0.7, ticks=""), **common)
    layout_axes[yk] = dict(domain=[py(top + PANEL_H), py(top)], anchor=xa, range=[0, y_top], tick0=0, dtick=y_step,
                           tickformat=",", minor=dict(dtick=y_step / 2, showgrid=True, gridcolor=GRID,
                                                      gridwidth=0.7, ticks=""), **common)


def add_events(n, days, heights, kinds, eased):
    xa, ya = ax(n)
    vx, vy = [], []
    for d, h in zip(dates(days), heights):
        vx += [d, d, None]
        vy += [0, h, None]
    fig.add_trace(go.Scatter(x=vx, y=vy, mode="lines", line=dict(color="rgba(110,110,110,0.42)", width=1, dash="4px,3px"),
                             xaxis=xa, yaxis=ya, hoverinfo="skip", showlegend=False))
    for d, h, k, e in zip(dates(days), heights, kinds, eased):
        sym, size = SYMBOLS[k]
        col = EASED if e else STARTED
        fig.add_trace(go.Scatter(x=[d], y=[h], mode="markers", xaxis=xa, yaxis=ya, showlegend=False, opacity=0.9,
                                 marker=dict(symbol=sym, size=size, color=col, line=dict(color=col, width=1))))


def add_legend(top):
    label(1175, top - 5.3, "Timing", size=10.2)
    label(1197, top + 13, "Started")
    label(1197, top + 29, "Eased")
    label(1175, top + 62.3, "Interventions", size=10.2)
    key_y = [top + 81 + 16.2 * i for i in range(6)]
    for txt, y in zip(INTERVENTIONS, key_y):
        label(1197, y, txt)
    label(1175, top + 195.3, "Credible intervals", size=10.2)
    label(1197, top + 213, "50%")
    label(1197, top + 230, "95%")
    for y0, col in ((top + 206, "rgb(98,168,129)"), (top + 222.3, "rgb(150,197,171)")):
        shapes.append(dict(type="rect", xref="paper", yref="paper", x0=px(1176), x1=px(1191), y0=py(y0), y1=py(y0 + 15.2),
                           fillcolor=col, line=dict(width=0), layer="above"))
    fig.add_trace(go.Scatter(x=[1183.6, 1183.6], y=[top + 13, top + 29], mode="markers", xaxis="x19", yaxis="y19",
                             hoverinfo="skip", showlegend=False,
                             marker=dict(symbol="circle", size=6, color=[STARTED, EASED])))
    for key, y in zip(INTERVENTION_KEYS, key_y):
        sym, size = SYMBOLS[key]
        fig.add_trace(go.Scatter(x=[1183.6], y=[y], mode="markers", xaxis="x19", yaxis="y19", hoverinfo="skip",
                                 showlegend=False,
                                 marker=dict(symbol=sym, size=size, color="black", line=dict(color="black", width=1))))


for r, state in enumerate(STATES):
    (d_start, deaths, d_u95, d_u50, d_l50, d_l95, c_start, cases, i_days, i_u95, i_u50, i_l50, i_l95,
     r_days, r_u95, r_u50, r_l50, r_l95, ev_days, ev_y, ev_kind, ev_eased) = ROWS[r]
    top = ROW_TOP0 + ROW_PITCH * r
    n_d, n_i, n_r = 3 * r + 1, 3 * r + 2, 3 * r + 3

    add_bars(n_d, d_start, deaths)
    add_smooth_ribbon(n_d, DEATH_DAYS, d_u95, d_l95, "rgba(0,104,139,0.45)")
    add_smooth_ribbon(n_d, DEATH_DAYS, d_u50, d_l50, "rgba(0,104,139,0.55)")
    set_axes(n_d, DEATH_LEFT[r], DEATH_RIGHT, top, DEATH_TOP[r], DEATH_STEP[r], DEATH_SPAN, TICK_DAYS_DEATHS,
             TICK_TEXT_DEATHS, MINOR_DAYS_DEATHS)

    add_bars(n_i, c_start, cases)
    add_ribbon(n_i, i_days, i_u95, i_l95, "rgba(0,104,139,0.45)")
    add_ribbon(n_i, i_days, i_u50, i_l50, "rgba(0,104,139,0.55)")
    set_axes(n_i, INF_LEFT[r], INF_RIGHT, top, INF_TOP[r], INF_STEP[r], OTHER_SPAN, TICK_DAYS_OTHER, TICK_TEXT_OTHER,
             MINOR_DAYS_OTHER)

    add_ribbon(n_r, r_days, r_u95, r_l95, "rgba(46,139,87,0.5)")
    add_ribbon(n_r, r_days, r_u50, r_l50, "rgba(46,139,87,0.75)")
    add_events(n_r, ev_days, ev_y, ev_kind, ev_eased)
    set_axes(n_r, RT_LEFT, RT_RIGHT, top, RT_TOP[r], RT_STEP[r], OTHER_SPAN, TICK_DAYS_OTHER, TICK_TEXT_OTHER,
             MINOR_DAYS_OTHER)
    xa, ya = ax(n_r)
    shapes.append(dict(type="line", xref=f"{xa} domain", yref=ya, x0=0, x1=1, y0=1, y1=1,
                       line=dict(color="black", width=1.4), layer="above"))

    label(DEATH_LEFT[r], top - 13, state, size=11.8)
    label(13.5, top + 113, "Daily number of deaths", size=11, anchor="center", angle=-90)
    label(328.5, top + 113, "Daily number of infections", size=11, anchor="center", angle=-90)
    label(644, top + 113, "R<sub>t</sub>", size=11, anchor="center", angle=-90)
    add_legend(top)

# hidden pixel axes for the legend keys, same corner as the window
layout_axes["xaxis19"] = dict(domain=[0, 1], range=[PAGE_MARGIN, PAGE_MARGIN + WIDTH], visible=False, anchor="y19", fixedrange=True)
layout_axes["yaxis19"] = dict(domain=[0, 1], range=[PAGE_MARGIN + HEIGHT, PAGE_MARGIN], visible=False, anchor="x19", fixedrange=True)

fig.update_layout(width=WIDTH, height=HEIGHT, margin=dict(l=0, r=0, t=0, b=0, autoexpand=False), paper_bgcolor="white",
                  plot_bgcolor="rgba(0,0,0,0)", barmode="overlay", showlegend=False, annotations=annotations, shapes=shapes,
                  font=dict(family=FONT), **layout_axes)

fig.write_html("out.html")
